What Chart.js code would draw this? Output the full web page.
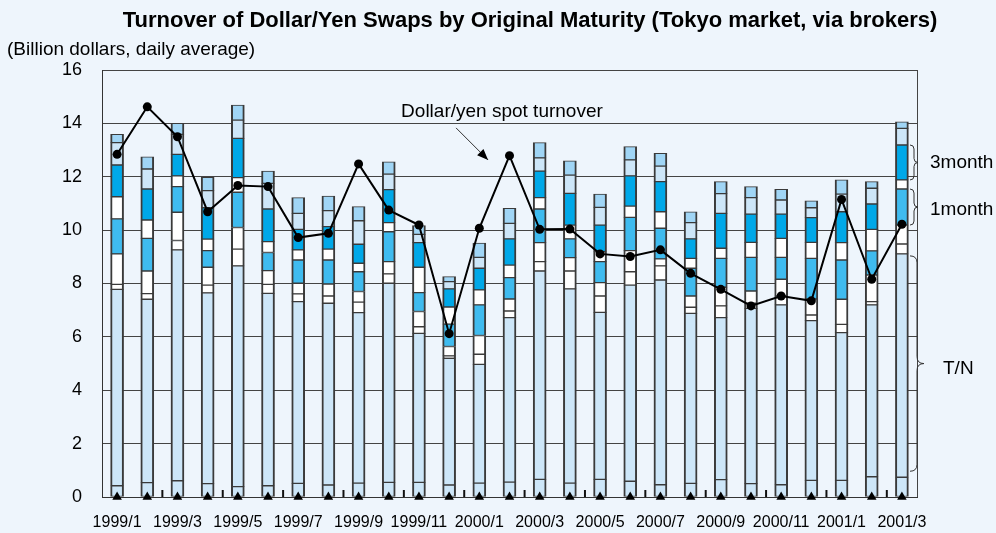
<!DOCTYPE html>
<html>
<head>
<meta charset="utf-8">
<script src="https://cdn.jsdelivr.net/npm/chart.js@4.4.1/dist/chart.umd.min.js"></script>
<style>
  html, body { margin: 0; padding: 0; background: #eef5fc; }
  canvas { display: block; }
</style>
</head>
<body>
<canvas id="chart" width="996" height="533"></canvas>
<script>
// ---------------- DATA ----------------
const categories = ['1999/1','1999/2','1999/3','1999/4','1999/5','1999/6','1999/7','1999/8','1999/9','1999/10','1999/11','1999/12',
                    '2000/1','2000/2','2000/3','2000/4','2000/5','2000/6','2000/7','2000/8','2000/9','2000/10','2000/11','2000/12',
                    '2001/1','2001/2','2001/3'];

// stacked segments, bottom to top (billion dollars, daily average)
const overnight  = [0.42,0.54,0.61,0.50,0.39,0.42,0.51,0.45,0.52,0.55,0.55,0.45,0.52,0.56,0.66,0.52,0.66,0.59,0.46,0.51,0.65,0.50,0.46,0.62,0.62,0.76,0.74];
const tomNext    = [7.36,6.87,8.65,7.15,8.27,7.21,6.81,6.81,6.39,7.46,5.58,4.75,4.45,6.16,7.81,7.28,6.26,7.35,7.67,6.37,6.07,6.57,6.74,5.99,5.54,6.44,8.37];
const spotNext   = [0.19,0.21,0.35,0.29,0.63,0.34,0.29,0.27,0.39,0.35,0.25,0.09,0.38,0.25,0.35,0.67,0.61,0.50,0.53,0.23,0.44,0.19,0.33,0.21,0.31,0.12,0.37];
const oneWeek    = [1.14,0.85,1.06,0.67,0.81,0.51,0.40,0.45,0.40,0.46,0.57,0.35,0.70,0.45,0.71,0.50,0.50,0.79,0.26,0.42,0.70,0.46,0.63,0.60,0.94,1.00,0.71];
const oneMonth   = [1.31,1.22,0.96,0.62,1.32,0.68,0.87,0.90,0.74,1.12,0.71,0.84,1.15,0.80,1.26,0.70,0.79,1.25,1.15,1.04,1.08,1.26,0.82,1.52,1.47,0.90,1.35];
const twoMonth   = [0.83,0.69,0.40,0.43,0.55,0.41,0.38,0.41,0.32,0.34,0.95,0.64,0.56,0.47,0.43,0.52,0.37,0.42,0.62,0.37,0.38,0.56,0.71,0.60,0.65,0.81,0.34];
const threeMonth = [1.19,1.16,0.81,1.18,1.47,1.22,0.77,0.84,0.71,1.24,0.92,0.68,0.81,0.98,0.99,1.19,1.00,1.13,1.13,0.73,1.31,1.06,0.91,0.93,1.16,0.95,1.31];
const sixMonth   = [0.84,0.75,0.75,0.64,0.68,0.96,0.60,0.60,0.88,0.58,0.31,0.27,0.41,0.58,0.50,0.68,0.66,0.60,0.58,0.61,0.74,0.62,0.53,0.37,0.66,0.59,0.62];
const oneYear    = [0.31,0.46,0.41,0.50,0.57,0.46,0.59,0.55,0.53,0.46,0.33,0.19,0.53,0.57,0.57,0.54,0.50,0.50,0.48,0.41,0.45,0.41,0.40,0.26,0.53,0.25,0.25];

// Dollar/yen spot turnover (line)
const spotTurnover = [12.84,14.62,13.50,10.69,11.67,11.63,9.72,9.88,12.48,10.75,10.19,6.12,10.07,12.79,10.03,10.04,9.11,9.01,9.26,8.38,7.78,7.16,7.53,7.35,11.15,8.16,10.22];

// baseline triangle markers (sit on the zero line)
const baseMarkers = [0,0,0,0,0,0,0,0,0,0,0,0,0,0,0,0,0,0,0,0,0,0,0,0,0,0,0];

// axis
const yMin = 0, yMax = 16, yStep = 2;

// texts
const titleText = 'Turnover of Dollar/Yen Swaps by Original Maturity (Tokyo market, via brokers)';
const unitText = '(Billion dollars, daily average)';
const spotLabel = 'Dollar/yen spot turnover';

// ---------------- STYLE ----------------
const FONT = "'Liberation Sans', Arial, Helvetica, sans-serif";
const BG = '#eef5fc';
const C_LIGHT = '#cde6f8';
const C_WHITE = '#ffffff';
const C_MID = '#3fbbef';
const C_DARK = '#00a8e8';
const C_TOP = '#a0d5f5';
const EDGE = '#3a3a3a';

const seriesList = [
  { label: 'O/N',     data: overnight,  color: C_LIGHT },
  { label: 'T/N',     data: tomNext,    color: C_LIGHT },
  { label: 'S/N',     data: spotNext,   color: C_WHITE },
  { label: '1 week',  data: oneWeek,    color: C_WHITE },
  { label: '1 month', data: oneMonth,   color: C_MID },
  { label: '2 month', data: twoMonth,   color: C_WHITE },
  { label: '3 month', data: threeMonth, color: C_DARK },
  { label: '6 month', data: sixMonth,   color: C_LIGHT },
  { label: '1 year',  data: oneYear,    color: C_TOP }
];

const barDatasets = seriesList.map(s => ({
  type: 'bar',
  label: s.label,
  data: s.data,
  backgroundColor: s.color,
  borderColor: EDGE,
  borderWidth: { top: 1, bottom: 1, left: 2, right: 2 },
  borderSkipped: false,
  barThickness: 13,
  stack: 'swaps',
  order: 3
}));

// annotation anchors in data coordinates (category index, value)
const spotLabelPos = { x: 12.75, y: 14.43 };
const arrowFrom = { x: 11.23, y: 13.83 };
const arrowTo = { x: 12.29, y: 12.63 };

function cumTop(i, k) { // top of series k at category i
  let s = 0;
  for (let j = 0; j <= k; j++) s += seriesList[j].data[i];
  return s;
}

function drawBrace(ctx, x0, yTop, yBot, w) {
  const yMid = (yTop + yBot) / 2;
  const r = Math.min(w / 2, (yBot - yTop) / 4);
  const xm = x0 + w / 2;
  ctx.beginPath();
  ctx.moveTo(x0, yTop);
  ctx.quadraticCurveTo(xm, yTop, xm, yTop + r);
  ctx.lineTo(xm, yMid - r);
  ctx.quadraticCurveTo(xm, yMid, x0 + w, yMid);
  ctx.quadraticCurveTo(xm, yMid, xm, yMid + r);
  ctx.lineTo(xm, yBot - r);
  ctx.quadraticCurveTo(xm, yBot, x0, yBot);
  ctx.stroke();
}

const decor = {
  id: 'decor',
  beforeDraw(chart) {
    const ctx = chart.ctx;
    ctx.save();
    ctx.fillStyle = BG;
    ctx.fillRect(0, 0, chart.width, chart.height);
    ctx.restore();
  },
  afterDraw(chart) {
    const ctx = chart.ctx;
    const xs = chart.scales.x, ys = chart.scales.y;
    const area = chart.chartArea;
    ctx.save();
    // right border of plot
    ctx.strokeStyle = '#444';
    ctx.lineWidth = 1;
    ctx.beginPath();
    ctx.moveTo(Math.round(area.right) + 0.5, area.top);
    ctx.lineTo(Math.round(area.right) + 0.5, area.bottom);
    ctx.stroke();

    // small tick marks every two months on the baseline
    ctx.strokeStyle = '#111';
    ctx.lineWidth = 2;
    for (let i = 1; i < categories.length - 1; i += 2) {
      const x = (xs.getPixelForValue(i) + xs.getPixelForValue(i + 1)) / 2;
      ctx.beginPath();
      ctx.moveTo(x, area.bottom - 7);
      ctx.lineTo(x, area.bottom);
      ctx.stroke();
    }

    // title and unit
    ctx.fillStyle = '#000';
    ctx.textBaseline = 'middle';
    ctx.textAlign = 'center';
    ctx.font = 'bold 22px ' + FONT;
    ctx.fillText(titleText, 530, 21);
    ctx.textAlign = 'left';
    ctx.font = '19px ' + FONT;
    ctx.fillText(unitText, 7, 50);

    // spot label and arrow
    ctx.textAlign = 'center';
    ctx.font = '19px ' + FONT;
    ctx.fillText(spotLabel, xs.getPixelForValue(spotLabelPos.x), ys.getPixelForValue(spotLabelPos.y));
    const ax0 = xs.getPixelForValue(arrowFrom.x), ay0 = ys.getPixelForValue(arrowFrom.y);
    const ax1 = xs.getPixelForValue(arrowTo.x), ay1 = ys.getPixelForValue(arrowTo.y);
    ctx.strokeStyle = '#333';
    ctx.lineWidth = 1;
    ctx.beginPath();
    ctx.moveTo(ax0, ay0);
    ctx.lineTo(ax1, ay1);
    ctx.stroke();
    const ang = Math.atan2(ay1 - ay0, ax1 - ax0);
    const L = 11, W = 4.5;
    ctx.fillStyle = '#000';
    ctx.beginPath();
    ctx.moveTo(ax1, ay1);
    ctx.lineTo(ax1 - L * Math.cos(ang) + W * Math.sin(ang), ay1 - L * Math.sin(ang) - W * Math.cos(ang));
    ctx.lineTo(ax1 - L * Math.cos(ang) - W * Math.sin(ang), ay1 - L * Math.sin(ang) + W * Math.cos(ang));
    ctx.closePath();
    ctx.fill();

    // braces for the last bar
    const last = categories.length - 1;
    ctx.strokeStyle = '#333';
    ctx.lineWidth = 1;
    const bx = area.right - 7;
    const b3t = ys.getPixelForValue(cumTop(last, 6)), b3b = ys.getPixelForValue(cumTop(last, 5));
    const b1t = ys.getPixelForValue(cumTop(last, 4)), b1b = ys.getPixelForValue(cumTop(last, 3));
    const btt = ys.getPixelForValue(cumTop(last, 1)), btb = ys.getPixelForValue(cumTop(last, 0));
    drawBrace(ctx, bx, b3t, b3b, 8);
    drawBrace(ctx, bx, b1t, b1b, 8);
    drawBrace(ctx, bx, btt + 2, btb - 6, 14);
    ctx.fillStyle = '#000';
    ctx.textAlign = 'left';
    ctx.font = '19px ' + FONT;
    ctx.fillText('3month', bx + 20, (b3t + b3b) / 2);
    ctx.fillText('1month', bx + 20, (b1t + b1b) / 2 + 3);
    ctx.fillText('T/N', bx + 33, (btt + btb) / 2 + 3);
    ctx.restore();
  }
};

new Chart(document.getElementById('chart'), {
  data: {
    labels: categories,
    datasets: [
      {
        type: 'line',
        label: 'Dollar/yen spot turnover',
        data: spotTurnover,
        borderColor: '#000',
        borderWidth: 2,
        pointRadius: 4.5,
        pointBackgroundColor: '#000',
        pointBorderWidth: 0,
        tension: 0,
        stack: 'spot',
        order: 1
      },
      {
        type: 'line',
        label: 'markers',
        data: baseMarkers,
        showLine: false,
        pointStyle: 'triangle',
        pointRadius: 5.5,
        pointBackgroundColor: '#000',
        pointBorderWidth: 0,
        stack: 'markers',
        clip: false,
        order: 0
      },
      ...barDatasets
    ]
  },
  options: {
    responsive: false,
    animation: false,
    devicePixelRatio: 1,
    layout: { padding: { top: 70, right: 79, left: 0, bottom: 0 } },
    plugins: { legend: { display: false }, tooltip: { enabled: false } },
    scales: {
      x: {
        stacked: true,
        grid: { display: false, drawTicks: false },
        border: { display: true, color: '#333', width: 1 },
        ticks: {
          autoSkip: false, maxRotation: 0, minRotation: 0, padding: 16,
          color: '#000', font: { family: FONT, size: 16 },
          callback: (v, i) => (i % 2 === 0 ? categories[i] : '')
        },
        afterFit(s) { s.height = 36; }
      },
      y: {
        stacked: true,
        min: yMin, max: yMax,
        ticks: { stepSize: yStep, padding: 20, color: '#000', font: { family: FONT, size: 18 } },
        grid: { color: '#444', lineWidth: 1, drawTicks: false },
        border: { display: true, color: '#333', width: 1 },
        afterFit(s) { s.width = 102; }
      }
    }
  },
  plugins: [decor]
});
</script>
</body>
</html>
